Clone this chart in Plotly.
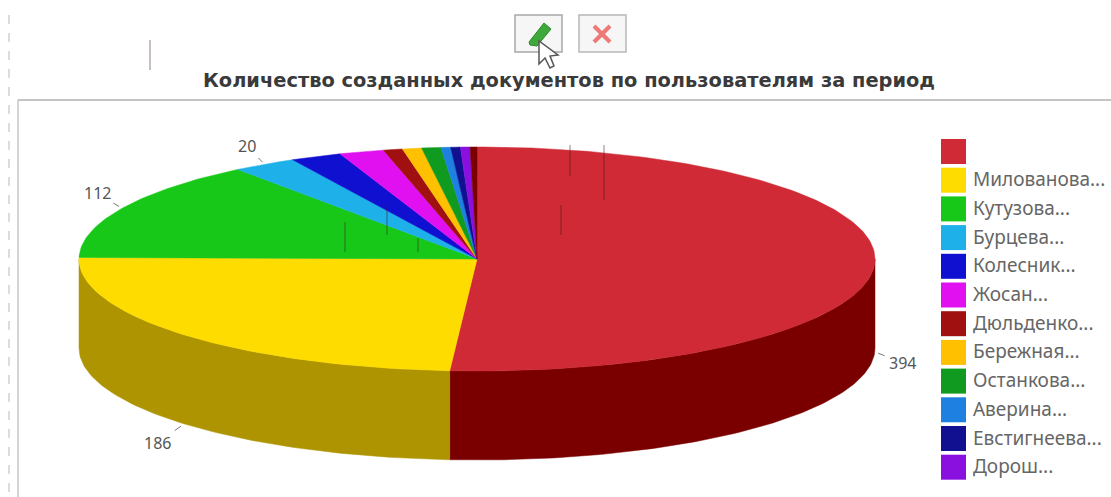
import math
import plotly.graph_objects as go

# Documents per user, clockwise from twelve o'clock
users = ["", "Милованова...", "Кутузова...", "Бурцева...", "Колесник...", "Жосан...",
         "Дюльденко...", "Бережная...", "Останкова...", "Аверина...", "Евстигнеева...", "Дорош..."]
documents = [394, 186, 112, 20, 16, 14, 6, 6, 6, 3, 3, 3]
labelled = [0, 1, 2, 3]
title_text = "Количество созданных документов по пользователям за период"

top_colors = ["#cf2a35", "#ffdc00", "#18c818", "#1eb0e8", "#1010d0", "#e010f0",
              "#a01010", "#ffc000", "#109a20", "#1e80e0", "#101090", "#8a10e0"]
side_colors = ["#7a0000", "#ad9400", "#0c640c", "#0f5874", "#080868", "#700878",
               "#500808", "#806000", "#084d10", "#0f4070", "#080848", "#450870"]

# Ellipse geometry in canvas pixels
CX, CY, RX, RY, DEPTH = 477, 259, 398, 112, 89
WALL_DEG = 1.0  # thin dark wall visible behind the first slice
LABEL_OFFSETS = [(28, 11), (-27, 19), (-25, -15), (-17, -18)]


def rim(deg, drop=0):
    a = math.radians(deg)
    return CX + RX * math.sin(a), CY - RY * math.cos(a) + drop


def arc(start, end, drop=0):
    n = max(2, int(abs(end - start)) + 2)
    return [rim(start + (end - start) * i / (n - 1), drop) for i in range(n)]


def polygon(fig, pts, color, name):
    xs, ys = zip(*pts)
    fig.add_trace(go.Scatter(x=list(xs) + [xs[0]], y=list(ys) + [ys[0]], mode="lines",
                             fill="toself", fillcolor=color,
                             line=dict(color=color, width=0.5), name=name,
                             hoverinfo="name", showlegend=False))


fig = go.Figure()

per_unit = (360 - WALL_DEG) / sum(documents)
edges = [0.0]
for v in documents:
    edges.append(edges[-1] + v * per_unit)

# Outer wall: only the front half of the disc shows
for i, (a, b) in enumerate(zip(edges, edges[1:])):
    lo, hi = max(a, 90), min(b, 270)
    if hi > lo:
        polygon(fig, arc(lo, hi) + arc(hi, lo, DEPTH), side_colors[i], users[i] + " бок")

# Top face
for i, (a, b) in enumerate(zip(edges, edges[1:])):
    polygon(fig, [(CX, CY)] + arc(a, b), top_colors[i], users[i] or "—")
polygon(fig, [(CX, CY)] + arc(360 - WALL_DEG, 360), side_colors[0], "стенка")

# Value labels with short leaders
for idx, (dx, dy) in zip(labelled, LABEL_OFFSETS):
    mid = (edges[idx] + edges[idx + 1]) / 2
    drop = DEPTH if 90 < mid < 270 else 0
    x0, y0 = rim(mid, drop)
    fig.add_trace(go.Scatter(x=[x0 + dx * 0.12, x0 + dx * 0.35], y=[y0 + dy * 0.12, y0 + dy * 0.35],
                             mode="lines", line=dict(color="#777", width=1),
                             hoverinfo="skip", showlegend=False))
    fig.add_annotation(x=x0 + dx, y=y0 + dy, text=str(documents[idx]), showarrow=False,
                       font=dict(family="Noto Sans", size=16, color="#555"))

# Legend column
LEG_X, LEG_Y, LEG_STEP = 953.5, 151.5, 28.7
fig.add_trace(go.Scatter(
    x=[LEG_X] * len(users), y=[LEG_Y + i * LEG_STEP for i in range(len(users))],
    mode="markers", marker=dict(symbol="square", size=25, color=top_colors),
    hoverinfo="skip", showlegend=False))
for i, name in enumerate(users):
    if name:
        fig.add_annotation(x=971, y=LEG_Y + i * LEG_STEP - 1, text=name, showarrow=False,
                           xanchor="left", font=dict(family="Noto Sans", size=19, color="#666"))

# Chart frame, page guide and stray hairlines
shapes = [
    dict(type="line", x0=18, y0=100, x1=1111, y1=100, line=dict(color="#b0b0b0", width=1.5)),
    dict(type="line", x0=18, y0=100, x1=18, y1=497, line=dict(color="#c4c4c4", width=1.5)),
    dict(type="line", x0=9, y0=15, x1=9, y1=497, line=dict(color="#dcdcdc", width=2, dash="dash")),
]
for x, y0, y1 in [(150, 40, 70), (345, 222, 252), (387, 205, 235), (418, 238, 252),
                  (561, 205, 235), (570, 145, 176), (604, 145, 200)]:
    shapes.append(dict(type="line", x0=x, y0=y0, x1=x, y1=y1,
                       line=dict(color="rgba(60,30,30,0.55)", width=1)))

# Toolbar buttons and pointer
shapes += [
    dict(type="rect", x0=515, y0=15, x1=562, y1=52, fillcolor="#f6f6f6",
         line=dict(color="#a8a8a8", width=1.5)),
    dict(type="rect", x0=579, y0=15, x1=626, y1=52, fillcolor="#f6f6f6",
         line=dict(color="#b8b8b8", width=1.5)),
    dict(type="path", path="M 529 42 L 544 23 L 551 29 L 537 46 L 530 45 Z",
         fillcolor="#3fa83a", line=dict(color="#2c8a2c", width=1)),
    dict(type="line", x0=594, y0=26, x1=610, y1=42, line=dict(color="#ee7a78", width=4)),
    dict(type="line", x0=610, y0=26, x1=594, y1=42, line=dict(color="#ee7a78", width=4)),
    dict(type="path", path="M 539 41 L 539 64 L 545 58 L 550 68 L 554 66 L 550 56 L 558 55 Z",
         fillcolor="#ffffff", line=dict(color="#555555", width=1.5)),
]

fig.add_annotation(x=569, y=80, text=f"<b>{title_text}</b>", showarrow=False,
                   font=dict(family="DejaVu Sans", size=19.4, color="#3a3a3a"))

fig.update_layout(
    width=1111, height=497, margin=dict(l=0, r=0, t=0, b=0),
    paper_bgcolor="white", plot_bgcolor="white", showlegend=False, shapes=shapes,
    xaxis=dict(range=[0, 1111], visible=False, fixedrange=True),
    yaxis=dict(range=[497, 0], visible=False, fixedrange=True),
)
fig.write_html("out.html", config=dict(displayModeBar=False))
